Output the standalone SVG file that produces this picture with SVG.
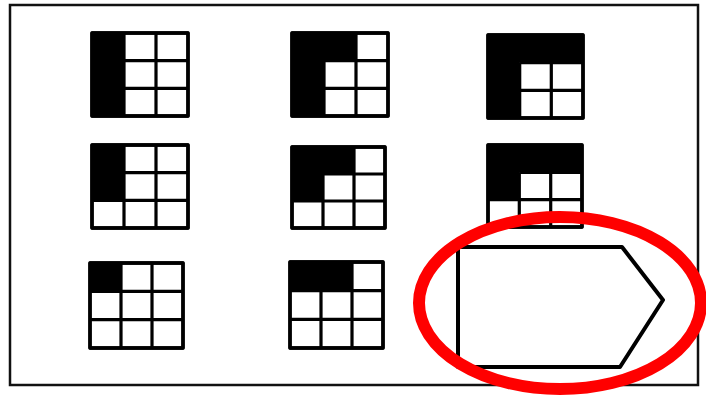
<svg xmlns="http://www.w3.org/2000/svg" width="706" height="395" viewBox="0 0 706 395">
<style>
.frame{fill:#fff;stroke:#111;stroke-width:2.5}
.box{fill:#fff;stroke:#000;stroke-width:3.4;stroke-linejoin:round}
.blk{fill:#000}
.ln{fill:none;stroke:#000;stroke-width:3.2}
.shape{fill:#fff;stroke:#000;stroke-width:4;stroke-linejoin:round}
.mark{fill:none;stroke:#f00;stroke-width:12}
</style>
<rect width="706" height="395" fill="#fff"/>
<rect class="frame" x="10" y="5" width="688" height="380"/>
<g id="grid1">
<rect class="box" x="92" y="33" width="96" height="83"/>
<rect class="blk" x="92" y="33" width="32" height="83"/>
<path class="ln" d="M124,33V116M156,33V116M92,60.7H188M92,88.3H188"/>
<rect class="box" x="92" y="33" width="96" height="83" style="fill:none"/>
</g>
<g id="grid2">
<rect class="box" x="292" y="33" width="96" height="83"/>
<path class="blk" d="M292,33H356V60.7H324V116H292Z"/>
<path class="ln" d="M324,33V116M356,33V116M292,60.7H388M292,88.3H388"/>
<rect class="box" x="292" y="33" width="96" height="83" style="fill:none"/>
</g>
<g id="grid3">
<rect class="box" x="488" y="35" width="95" height="83"/>
<path class="blk" d="M488,35H583V62.7H519.7V118H488Z"/>
<path class="ln" d="M519.7,62.7V118M551.3,62.7V118M519.7,62.7H583M488,90.3H583"/>
<rect class="box" x="488" y="35" width="95" height="83" style="fill:none"/>
</g>
<g id="grid4">
<rect class="box" x="92" y="145" width="96" height="83"/>
<rect class="blk" x="92" y="145" width="32" height="55.3"/>
<path class="ln" d="M124,145V228M156,145V228M92,172.7H188M92,200.3H188"/>
<rect class="box" x="92" y="145" width="96" height="83" style="fill:none"/>
</g>
<g id="grid5">
<rect class="box" x="292" y="147" width="93" height="81"/>
<path class="blk" d="M292,147H354V174H323V201H292Z"/>
<path class="ln" d="M323,147V228M354,147V228M292,174H385M292,201H385"/>
<rect class="box" x="292" y="147" width="93" height="81" style="fill:none"/>
</g>
<g id="grid6">
<rect class="box" x="488" y="145" width="94" height="82"/>
<path class="blk" d="M488,145H582V172.3H519.3V199.7H488Z"/>
<path class="ln" d="M519.3,172.3V227M550.7,172.3V227M519.3,172.3H582M488,199.7H582"/>
<rect class="box" x="488" y="145" width="94" height="82" style="fill:none"/>
</g>
<g id="grid7">
<rect class="box" x="90" y="263" width="93" height="85"/>
<rect class="blk" x="90" y="263" width="31" height="28.3"/>
<path class="ln" d="M121,263V348M152,263V348M90,291.3H183M90,319.7H183"/>
<rect class="box" x="90" y="263" width="93" height="85" style="fill:none"/>
</g>
<g id="grid8">
<rect class="box" x="290" y="262" width="93" height="86"/>
<rect class="blk" x="290" y="262" width="62" height="28.7"/>
<path class="ln" d="M321,262V348M352,262V348M290,290.7H383M290,319.3H383"/>
<rect class="box" x="290" y="262" width="93" height="86" style="fill:none"/>
</g>
<g id="answer">
<polygon class="shape" points="458,247 622,247 663,300 620,367 458,367"/>
</g>
<g id="highlight">
<ellipse class="mark" cx="560" cy="303" rx="141" ry="86"/>
</g>
</svg>
